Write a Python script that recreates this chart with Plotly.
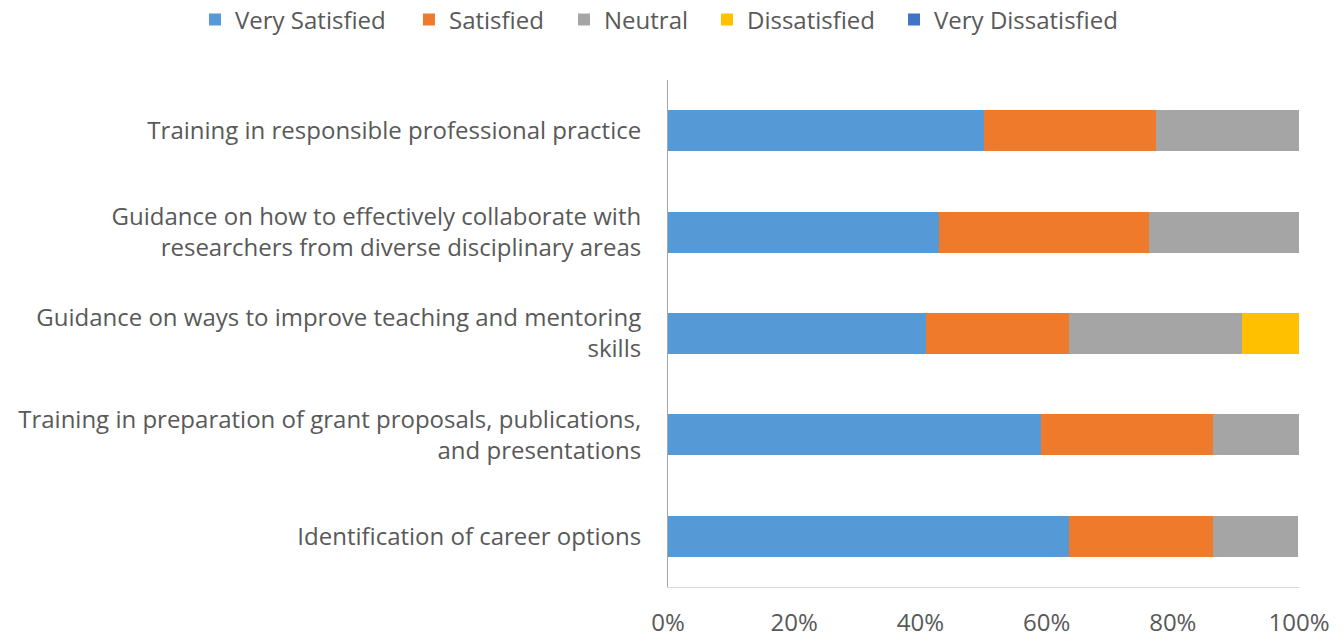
import plotly.graph_objects as go

# categories listed bottom to top
categories = [
    "Identification of career options",
    "Training in preparation of grant proposals, publications,<br>and presentations",
    "Guidance on ways to improve teaching and mentoring<br>skills",
    "Guidance on how to effectively collaborate with<br>researchers from diverse disciplinary areas",
    "Training in responsible professional practice",
]

very_satisfied = [63.6, 59.1, 40.9, 42.9, 50.0]
satisfied = [22.7, 27.3, 22.7, 33.3, 27.3]
neutral = [13.6, 13.6, 27.3, 23.8, 22.7]
dissatisfied = [0, 0, 9.1, 0, 0]
very_dissatisfied = [0, 0, 0, 0, 0]

series = [
    ("Very Satisfied", very_satisfied, "#5599D6"),
    ("Satisfied", satisfied, "#F07A2C"),
    ("Neutral", neutral, "#A5A5A5"),
    ("Dissatisfied", dissatisfied, "#FFC000"),
    ("Very Dissatisfied", very_dissatisfied, "#4472C4"),
]
# one legend per series so the entries sit in one row like the original
legend_x = [-0.7496, -0.4105, -0.1648, 0.0618, 0.3582]

fig = go.Figure()
legends = {}
for i, (name, vals, color) in enumerate(series):
    lg = "legend" if i == 0 else "legend%d" % (i + 1)
    fig.add_trace(go.Bar(
        y=categories, x=vals, name=name, orientation="h",
        marker=dict(color=color, line=dict(width=0)),
        legend=lg,
    ))
    legends[lg] = dict(orientation="h", xref="paper", yref="paper",
                       x=legend_x[i], xanchor="left", y=1.1183, yanchor="middle",
                       font=dict(size=24, color="#595959"),
                       bgcolor="rgba(0,0,0,0)",
                       itemwidth=30, itemclick=False, itemdoubleclick=False)

font = "Open Sans, sans-serif"
fig.update_layout(
    barmode="stack",
    bargap=0.595,
    width=1344, height=638,
    margin=dict(l=668, r=45, t=80, b=51, autoexpand=False),
    paper_bgcolor="white", plot_bgcolor="white",
    font=dict(family=font, size=24, color="#595959"),
    showlegend=True,
    **legends,
)
fig.update_xaxes(range=[0, 100], tickvals=[0, 20, 40, 60, 80, 100],
                 ticktext=["0%", "20%", "40%", "60%", "80%", "100%"],
                 showgrid=False, zeroline=False, showline=True,
                 linecolor="#D9D9D9", linewidth=1, ticks="",
                 automargin=False,
                 ticklabelstandoff=14, tickfont=dict(size=24, color="#595959"))
fig.update_yaxes(showgrid=False, zeroline=False, showline=True,
                 linecolor="#A6A6A6", linewidth=1, ticks="",
                 automargin=False,
                 ticklabelstandoff=21, tickfont=dict(size=24, color="#595959"))

# drop the default 8px page margin so the figure fills the window
fig.write_html("out.html", config={"displayModeBar": False},
               post_script="document.body.style.margin='0';")
